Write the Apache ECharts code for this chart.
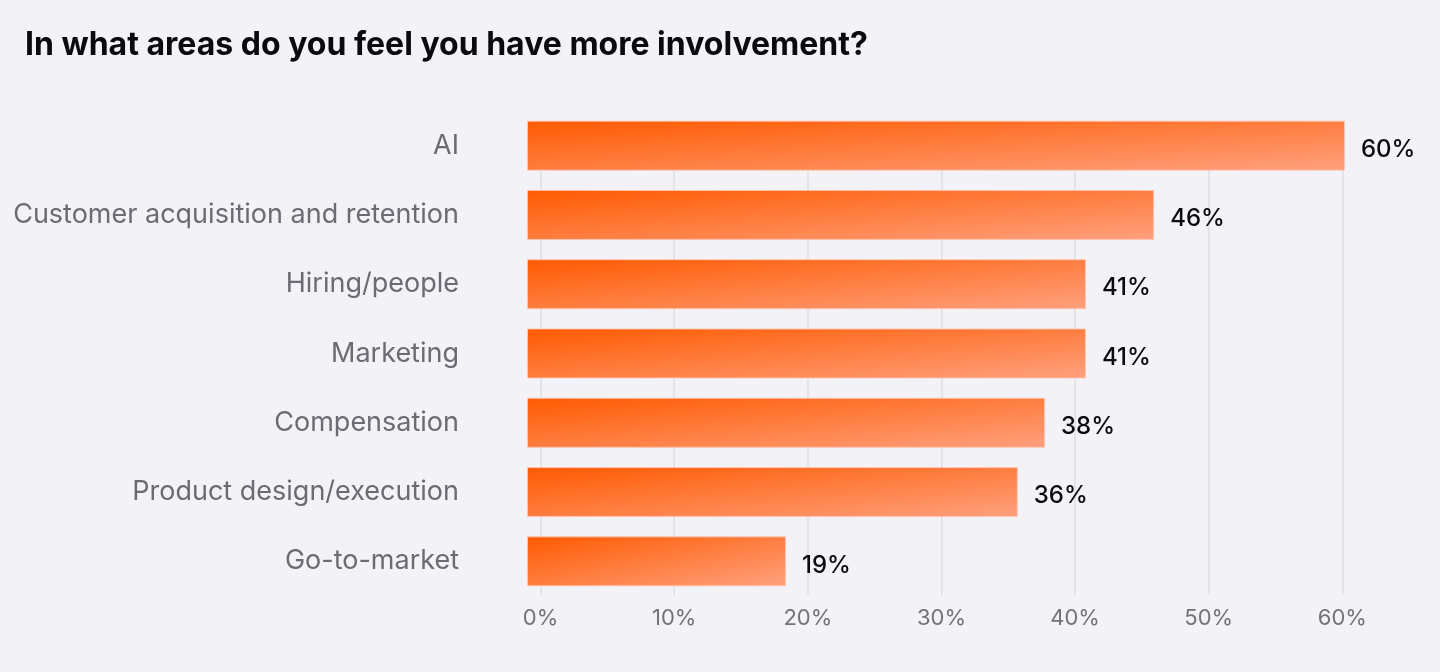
<!DOCTYPE html>
<html>
<head>
<meta charset="utf-8">
<script src="https://cdn.jsdelivr.net/npm/echarts@6/dist/echarts.min.js"></script>
<style>
html,body{margin:0;padding:0;background:#f2f2f7;}
#chart{width:1440px;height:672px;}
</style>
</head>
<body>
<div id="chart"></div>
<script>
const title = 'In what areas do you feel you have more involvement?';
const categories = ['AI', 'Customer acquisition and retention', 'Hiring/people', 'Marketing', 'Compensation', 'Product design/execution', 'Go-to-market'];
const values = [60, 46, 41, 41, 38, 36, 19];
const tickValues = [0, 10, 20, 30, 40, 50, 60];

const chart = echarts.init(document.getElementById('chart'), null, {renderer: 'canvas'});
const font = 'Inter, "Noto Sans", sans-serif';
const BAR_H = 50;

function barGradient(w, h) {
  // "to bottom right" style gradient: top-right and bottom-left corners share the mid colour
  const d = w * w + h * h;
  const x2 = 2 * h * h / d;
  const y2 = 2 * w * w / d;
  return new echarts.graphic.LinearGradient(0, 0, x2, y2, [
    {offset: 0, color: '#ff5a00'},
    {offset: 1, color: '#ffa07e'}
  ]);
}

const option = {
  backgroundColor: '#f2f2f7',
  animation: false,
  title: {
    text: title,
    left: 20, top: 24,
    textStyle: {fontFamily: font, fontSize: 32, fontWeight: 'bold', color: '#0b0b0f'}
  },
  grid: [
    {left: 540.6, right: 97.7, top: 121, bottom: 77, containLabel: false},
    {left: 527, right: 95, top: 111, bottom: 76, containLabel: false}
  ],
  xAxis: [
    {
      gridIndex: 0, type: 'value', min: tickValues[0], max: tickValues[tickValues.length - 1], interval: 10,
      axisLine: {show: false}, axisTick: {show: false},
      splitLine: {show: true, lineStyle: {color: '#e3e3ea', width: 2}},
      axisLabel: {formatter: v => v + '%', fontFamily: font, fontSize: 22, color: '#72737a', margin: 12}
    },
    {
      gridIndex: 1, type: 'value', min: 0, max: 60, show: false,
      splitLine: {show: false}
    }
  ],
  yAxis: [
    {gridIndex: 0, type: 'category', data: categories, inverse: true, show: false},
    {
      gridIndex: 1, type: 'category', data: categories, inverse: true,
      axisLine: {show: false}, axisTick: {show: false},
      axisLabel: {fontFamily: font, fontSize: 27, color: '#6a6b73', margin: 68}
    }
  ],
  series: [{
    type: 'bar',
    xAxisIndex: 1, yAxisIndex: 1,
    data: values,
    barWidth: BAR_H,
    clip: false,
    itemStyle: {
      color: barGradient(800, BAR_H),
      borderColor: 'rgba(255,196,176,0.9)',
      borderWidth: 1
    },
    label: {
      show: true, position: 'right', distance: 16,
      offset: [0, 4],
      formatter: p => p.value + '%',
      fontFamily: font, fontSize: 24, color: '#0b0b0f', fontWeight: 500
    }
  }]
};
chart.setOption(option);

// per-bar gradient based on each bar's pixel width from the axis scale
const x0 = chart.convertToPixel({xAxisIndex: 1}, 0);
const styled = values.map(v => {
  const w = Math.max(1, chart.convertToPixel({xAxisIndex: 1}, v) - x0);
  return {value: v, itemStyle: {color: barGradient(w, BAR_H)}};
});
chart.setOption({series: [{data: styled}]});
</script>
</body>
</html>
